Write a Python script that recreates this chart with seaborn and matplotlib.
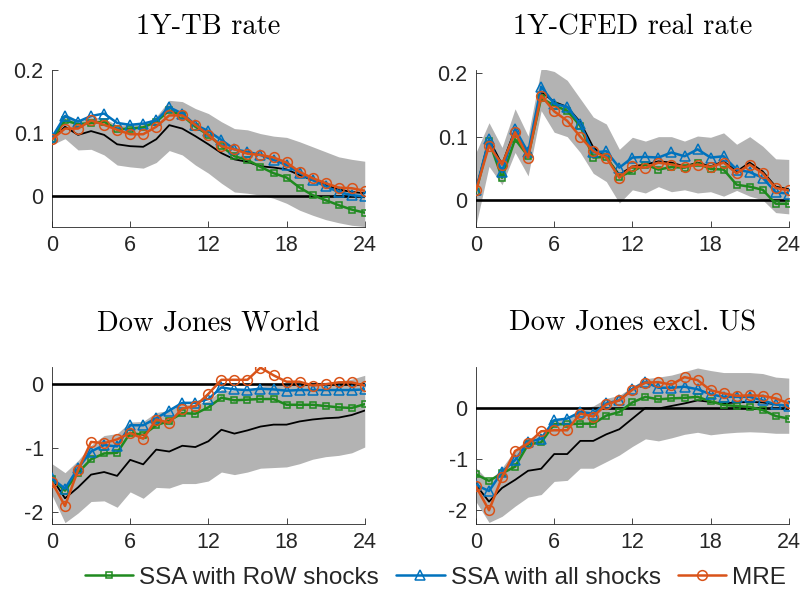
import numpy as np
import pandas as pd
import matplotlib
matplotlib.use("Agg")
import matplotlib.pyplot as plt
import seaborn as sns

# Horizons
h = list(range(25))

titles = ["1Y-TB rate", "1Y-CFED real rate", "Dow Jones World", "Dow Jones excl. US"]
series_names = ["SSA with RoW shocks", "SSA with all shocks", "MRE"]

# Panel 1: 1Y-TB rate
tb_median = [0.090, 0.110, 0.097, 0.103, 0.097, 0.082, 0.079, 0.078, 0.090, 0.1125, 0.107, 0.095, 0.082,
             0.068, 0.058, 0.054, 0.047, 0.045, 0.042, 0.033, 0.025, 0.017, 0.010, 0.006, 0.004]
tb_upper = [0.097, 0.131, 0.120, 0.126, 0.123, 0.113, 0.113, 0.115, 0.126, 0.152, 0.150, 0.139, 0.131,
            0.118, 0.107, 0.105, 0.099, 0.095, 0.093, 0.086, 0.078, 0.070, 0.062, 0.058, 0.055]
tb_lower = [0.081, 0.091, 0.073, 0.074, 0.065, 0.049, 0.046, 0.044, 0.053, 0.072, 0.065, 0.049, 0.036,
            0.020, 0.006, 0.004, 0.001, -0.004, -0.012, -0.023, -0.031, -0.038, -0.043, -0.047, -0.049]
tb_row = [0.090, 0.120, 0.114, 0.116, 0.118, 0.106, 0.107, 0.109, 0.118, 0.136, 0.128, 0.110, 0.097,
          0.079, 0.063, 0.057, 0.046, 0.036, 0.029, 0.013, 0.001, -0.007, -0.015, -0.022, -0.027]
tb_all = [0.093, 0.127, 0.118, 0.127, 0.131, 0.116, 0.113, 0.115, 0.120, 0.141, 0.131, 0.113, 0.103,
          0.089, 0.074, 0.070, 0.065, 0.057, 0.049, 0.036, 0.025, 0.015, 0.006, 0.001, -0.001]
tb_mre = [0.090, 0.107, 0.107, 0.120, 0.113, 0.105, 0.098, 0.098, 0.110, 0.128, 0.128, 0.113, 0.097,
          0.079, 0.074, 0.067, 0.065, 0.061, 0.053, 0.038, 0.028, 0.020, 0.013, 0.012, 0.008]

# Panel 2: 1Y-CFED real rate
cf_median = [0.016, 0.096, 0.056, 0.112, 0.072, 0.171, 0.155, 0.147, 0.123, 0.083, 0.067, 0.040, 0.053,
             0.056, 0.061, 0.059, 0.053, 0.059, 0.053, 0.061, 0.045, 0.059, 0.045, 0.021, 0.017]
cf_upper = [0.075, 0.122, 0.083, 0.144, 0.101, 0.208, 0.203, 0.189, 0.160, 0.131, 0.120, 0.080, 0.099,
            0.093, 0.100, 0.100, 0.093, 0.101, 0.099, 0.106, 0.088, 0.100, 0.085, 0.065, 0.064]
cf_lower = [-0.040, 0.053, 0.024, 0.075, 0.038, 0.141, 0.107, 0.100, 0.075, 0.042, 0.029, -0.005, 0.016,
            0.011, 0.021, 0.013, 0.016, 0.011, 0.013, 0.006, 0.015, 0.006, 0.000, -0.020, -0.022]
cf_row = [0.013, 0.093, 0.035, 0.096, 0.069, 0.161, 0.149, 0.141, 0.117, 0.067, 0.068, 0.037, 0.045,
          0.056, 0.048, 0.052, 0.051, 0.058, 0.049, 0.048, 0.024, 0.021, 0.016, -0.006, -0.006]
cf_all = [0.016, 0.096, 0.044, 0.112, 0.075, 0.179, 0.152, 0.147, 0.120, 0.075, 0.077, 0.051, 0.067,
          0.068, 0.067, 0.075, 0.069, 0.080, 0.067, 0.069, 0.048, 0.044, 0.035, 0.012, 0.010]
cf_mre = [0.015, 0.086, 0.056, 0.107, 0.067, 0.165, 0.140, 0.125, 0.100, 0.077, 0.067, 0.035, 0.053,
          0.051, 0.059, 0.056, 0.052, 0.056, 0.052, 0.059, 0.042, 0.056, 0.042, 0.019, 0.015]

# Panel 3: Dow Jones World
dw_median = [-1.47, -1.78, -1.61, -1.41, -1.37, -1.43, -1.18, -1.25, -1.02, -1.05, -0.96, -0.98, -0.89,
             -0.71, -0.77, -0.72, -0.66, -0.63, -0.63, -0.58, -0.55, -0.53, -0.52, -0.48, -0.41]
dw_upper = [-1.24, -1.38, -1.19, -0.95, -0.80, -0.77, -0.59, -0.58, -0.44, -0.41, -0.31, -0.31, -0.26,
            -0.08, -0.10, -0.08, -0.03, 0.00, -0.02, 0.02, 0.03, 0.03, 0.05, 0.08, 0.14]
dw_lower = [-1.73, -2.16, -2.01, -1.83, -1.82, -1.92, -1.68, -1.78, -1.61, -1.62, -1.55, -1.55, -1.51,
            -1.37, -1.41, -1.37, -1.31, -1.30, -1.29, -1.24, -1.17, -1.13, -1.11, -1.07, -0.98]
dw_row = [-1.48, -1.66, -1.38, -1.17, -1.08, -1.07, -0.76, -0.79, -0.64, -0.57, -0.45, -0.46, -0.36,
          -0.21, -0.25, -0.24, -0.23, -0.23, -0.32, -0.32, -0.32, -0.34, -0.36, -0.37, -0.31]
dw_all = [-1.47, -1.63, -1.31, -1.05, -0.95, -0.97, -0.64, -0.64, -0.53, -0.41, -0.29, -0.29, -0.23,
          -0.05, -0.08, -0.09, -0.07, -0.08, -0.10, -0.09, -0.09, -0.09, -0.09, -0.09, -0.08]
dw_mre = [-1.53, -1.90, -1.34, -0.90, -0.92, -0.86, -0.76, -0.85, -0.55, -0.60, -0.38, -0.34, -0.15,
          0.07, 0.07, 0.07, 0.26, 0.14, 0.04, 0.04, -0.02, 0.00, 0.03, 0.03, -0.02]

# Panel 4: Dow Jones excl. US
dx_median = [-1.51, -1.84, -1.57, -1.41, -1.23, -1.19, -0.90, -0.90, -0.64, -0.64, -0.51, -0.41, -0.20,
             0.01, 0.00, 0.05, 0.10, 0.16, 0.13, 0.10, 0.12, 0.13, 0.12, 0.08, 0.05]
dx_upper = [-1.17, -1.44, -1.17, -0.82, -0.59, -0.51, -0.20, -0.23, 0.00, 0.05, 0.20, 0.26, 0.43,
            0.59, 0.62, 0.66, 0.73, 0.80, 0.75, 0.71, 0.71, 0.71, 0.69, 0.62, 0.60]
dx_lower = [-1.84, -2.25, -2.13, -1.93, -1.75, -1.70, -1.44, -1.42, -1.18, -1.18, -1.05, -0.92, -0.75,
            -0.60, -0.64, -0.58, -0.51, -0.47, -0.52, -0.49, -0.47, -0.46, -0.47, -0.49, -0.49]
dx_row = [-1.30, -1.43, -1.28, -1.15, -0.71, -0.67, -0.31, -0.31, -0.30, -0.30, -0.14, -0.07, 0.12,
          0.23, 0.18, 0.20, 0.21, 0.23, 0.14, 0.07, 0.05, 0.03, -0.03, -0.15, -0.20]
dx_all = [-1.51, -1.63, -1.25, -1.02, -0.66, -0.60, -0.23, -0.20, -0.07, -0.10, 0.10, 0.16, 0.39,
          0.52, 0.41, 0.41, 0.43, 0.38, 0.28, 0.23, 0.23, 0.23, 0.16, 0.08, 0.05]
dx_mre = [-1.54, -2.01, -1.36, -0.84, -0.69, -0.45, -0.43, -0.43, -0.10, -0.16, 0.08, 0.16, 0.37,
          0.51, 0.52, 0.47, 0.62, 0.56, 0.36, 0.30, 0.25, 0.26, 0.25, 0.20, 0.10]

# Axis ticks / labels
x_ticks = [0, 6, 12, 18, 24]
y_ticks = [[0, 0.1, 0.2], [0, 0.1, 0.2], [-2, -1, 0], [-2, -1, 0]]
y_ticklabels = [["0", "0.1", "0.2"], ["0", "0.1", "0.2"], ["-2", "-1", "0"], ["-2", "-1", "0"]]
y_limits = [(-0.05, 0.2), (-0.043, 0.205), (-2.18, 0.27), (-2.28, 0.82)]

panels = [
    (tb_median, tb_upper, tb_lower, tb_row, tb_all, tb_mre),
    (cf_median, cf_upper, cf_lower, cf_row, cf_all, cf_mre),
    (dw_median, dw_upper, dw_lower, dw_row, dw_all, dw_mre),
    (dx_median, dx_upper, dx_lower, dx_row, dx_all, dx_mre),
]

colors = ["#1f8a1f", "#0072BD", "#D95319"]
markers = ["s", "^", "o"]
msizes = [5, 7, 7]

sns.set_style("white")
plt.rcParams["axes.unicode_minus"] = False

fig = plt.figure(figsize=(8.02, 5.9), dpi=100)
positions = [
    [0.0648, 0.615, 0.390, 0.266],
    [0.5935, 0.615, 0.390, 0.266],
    [0.0648, 0.112, 0.390, 0.266],
    [0.5935, 0.112, 0.390, 0.266],
]

for i, (pos, data) in enumerate(zip(positions, panels)):
    ax = fig.add_axes(pos)
    med, up, lo, row, allv, mre = data
    df = pd.DataFrame({"h": h, "median": med, "upper": up, "lower": lo,
                       series_names[0]: row, series_names[1]: allv, series_names[2]: mre})

    ax.fill_between(df["h"], df["lower"], df["upper"], color="#b3b3b3", linewidth=0, zorder=1)
    sns.lineplot(data=df, x="h", y="median", color="black", linewidth=1.3, ax=ax, zorder=2)
    ax.axhline(0, color="black", linewidth=1.9, zorder=3)
    for j, name in enumerate(series_names):
        sns.lineplot(data=df, x="h", y=name, color=colors[j], linewidth=1.8,
                     marker=markers[j], markersize=msizes[j], markerfacecolor="none",
                     markeredgecolor=colors[j], markeredgewidth=1.1,
                     label=name, ax=ax, zorder=4 + j)
    if ax.get_legend() is not None:
        ax.get_legend().remove()

    ax.set_xlim(0, 24)
    ax.set_ylim(*y_limits[i])
    ax.set_xticks(x_ticks)
    ax.set_xticklabels([str(t) for t in x_ticks])
    ax.set_yticks(y_ticks[i])
    ax.set_yticklabels(y_ticklabels[i])
    ax.set_xlabel("")
    ax.set_ylabel("")
    ax.tick_params(direction="in", length=4, width=0.6, colors="#262626",
                   labelsize=15.5, pad=6, bottom=True, left=True)
    for lab in ax.get_xticklabels() + ax.get_yticklabels():
        lab.set_family("Liberation Sans")
    for s in ["top", "right"]:
        ax.spines[s].set_visible(False)
    for s in ["left", "bottom"]:
        ax.spines[s].set_color("#262626")
        ax.spines[s].set_linewidth(0.6)
    ax.set_title(titles[i], family="cmr10", fontsize=20.5, pad=26, color="black")

    if i == 0:
        handles, labels = ax.get_legend_handles_labels()

fig.legend(handles, labels, loc="center", bbox_to_anchor=(0.543, 0.021), ncol=3,
           frameon=False, prop={"family": "Liberation Sans", "size": 17.5},
           handlelength=2.0, handletextpad=0.25, columnspacing=0.7, borderaxespad=0)

fig.savefig("out.png", dpi=100)
